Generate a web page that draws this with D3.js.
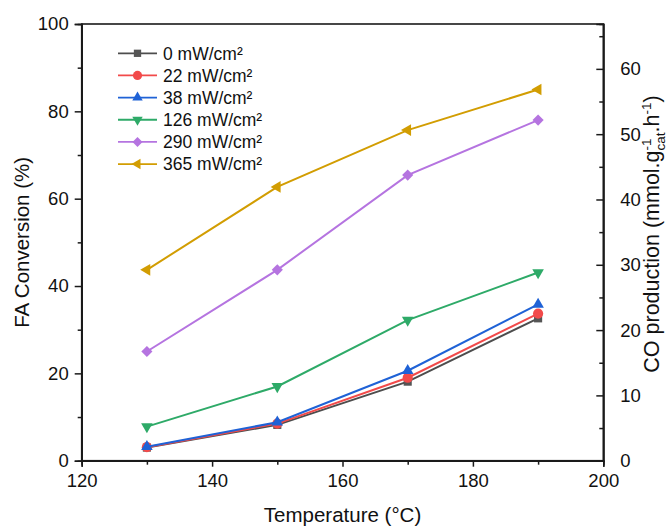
<!DOCTYPE html>
<html>
<head>
<meta charset="utf-8">
<script src="https://cdn.jsdelivr.net/npm/d3@7"></script>
<style>
  html, body { margin: 0; padding: 0; background: #fff; }
  svg { display: block; font-family: "Liberation Sans", Arial, sans-serif; }
</style>
</head>
<body>
<svg id="chart" width="669" height="526"></svg>
<script>
// Reaction temperature (°C)
const temperatures = [130, 150, 170, 190];

// Series labels (light intensity)
const seriesNames = ["0 mW/cm²", "22 mW/cm²", "38 mW/cm²", "126 mW/cm²", "290 mW/cm²", "365 mW/cm²"];

// FA conversion (%) for each light intensity
const conv0   = [3.0, 8.2, 18.1, 32.6];
const conv22  = [3.1, 8.5, 19.0, 33.7];
const conv38  = [3.2, 8.8, 20.6, 35.8];
const conv126 = [7.8, 17.0, 32.2, 43.1];
const conv290 = [25.0, 43.7, 65.4, 78.0];
const conv365 = [43.7, 62.7, 75.7, 85.0];

const seriesColors  = ["#4d4d4d", "#f24a4a", "#1f62d6", "#2eaa68", "#b574e0", "#d29d02"];
const markerColors  = ["#555555", "#f24a4a", "#1f62d6", "#2eaa68", "#b574e0", "#d29d02"];
const markerShapes  = ["square", "circle", "up", "down", "diamond", "left"];

// Axis ticks
const xTicks = [120, 140, 160, 180, 200];
const xMinor = [130, 150, 170, 190];
const yTicks = [0, 20, 40, 60, 80, 100];
const yMinor = [10, 30, 50, 70, 90];
const y2Ticks = [0, 10, 20, 30, 40, 50, 60];
const y2Minor = [5, 15, 25, 35, 45, 55, 65];
const y2Max = 66.87;   // CO production scale aligned with 100 % conversion

const allSeries = [conv0, conv22, conv38, conv126, conv290, conv365];

const svg = d3.select("#chart");
const plotL = 81.7, plotR = 603.3, plotT = 24, plotB = 460.7;

const x = d3.scaleLinear().domain([120, 200]).range([plotL, plotR]);
const y = d3.scaleLinear().domain([0, 100]).range([plotB, plotT]);
const y2 = d3.scaleLinear().domain([0, y2Max]).range([plotB, plotT]);

const axisColor = "#1a1a1a";
const tickFont = 18.5;

// Frame
svg.append("rect")
  .attr("x", plotL).attr("y", plotT)
  .attr("width", plotR - plotL).attr("height", plotB - plotT)
  .attr("fill", "none").attr("stroke", axisColor).attr("stroke-width", 1.6);

// Bottom axis
svg.append("g").attr("transform", `translate(0,${plotB})`)
  .call(d3.axisBottom(x).tickValues(xTicks).tickSize(6).tickPadding(7).tickFormat(d3.format("d")));
svg.append("g").attr("transform", `translate(0,${plotB})`)
  .call(d3.axisBottom(x).tickValues(xMinor).tickSize(4).tickFormat(""));

// Left axis
svg.append("g").attr("transform", `translate(${plotL},0)`)
  .call(d3.axisLeft(y).tickValues(yTicks).tickSize(7).tickPadding(6).tickFormat(d3.format("d")));
svg.append("g").attr("transform", `translate(${plotL},0)`)
  .call(d3.axisLeft(y).tickValues(yMinor).tickSize(4).tickFormat(""));

// Right axis (ticks point inward)
svg.append("g").attr("transform", `translate(${plotR},0)`)
  .call(d3.axisRight(y2).tickValues(y2Ticks).tickSize(-7).tickPadding(17).tickFormat(d3.format("d")));
svg.append("g").attr("transform", `translate(${plotR},0)`)
  .call(d3.axisRight(y2).tickValues(y2Minor).tickSize(-4).tickFormat(""));

svg.selectAll(".domain").attr("stroke", axisColor).attr("stroke-width", 1.6);
svg.selectAll(".tick line").attr("stroke", axisColor).attr("stroke-width", 1.5);
svg.selectAll(".tick text").attr("fill", "#111").style("font-size", tickFont + "px")
  .style("font-family", "'Liberation Sans', Arial, sans-serif");

// Marker path generator
function markerPath(shape, scale) {
  const s = scale || 1;
  switch (shape) {
    case "square":  return d3.symbol(d3.symbolSquare, 66 * s * s)();
    case "circle":  return d3.symbol(d3.symbolCircle, 82 * s * s)();
    case "up":      return d3.symbol(d3.symbolTriangle, 58 * s * s)();
    case "down":    return d3.symbol(d3.symbolTriangle, 58 * s * s)();
    case "left":    return d3.symbol(d3.symbolTriangle, 58 * s * s)();
    case "diamond": return d3.symbol(d3.symbolSquare, 62 * s * s)();
  }
}
function markerRotation(shape) {
  return { down: 180, left: -90, diamond: 45 }[shape] || 0;
}

// Lines and markers
const line = d3.line().x((d, i) => x(temperatures[i])).y(d => y(d));
allSeries.forEach((vals, k) => {
  const g = svg.append("g");
  g.append("path").datum(vals)
    .attr("d", line).attr("fill", "none")
    .attr("stroke", seriesColors[k]).attr("stroke-width", 2);
  g.selectAll("path.mk").data(vals).enter().append("path")
    .attr("class", "mk")
    .attr("d", markerPath(markerShapes[k]))
    .attr("transform", (d, i) => `translate(${x(temperatures[i])},${y(d)}) rotate(${markerRotation(markerShapes[k])})`)
    .attr("fill", markerColors[k]);
});

// Legend
const legend = svg.append("g");
const legX0 = 118, legX1 = 157, legY0 = 53.3, legStep = 22.15;
seriesNames.forEach((name, k) => {
  const ly = legY0 + k * legStep;
  legend.append("line")
    .attr("x1", legX0).attr("x2", legX1).attr("y1", ly).attr("y2", ly)
    .attr("stroke", seriesColors[k]).attr("stroke-width", 1.8);
  legend.append("path")
    .attr("d", markerPath(markerShapes[k], 0.9))
    .attr("transform", `translate(${(legX0 + legX1) / 2},${ly}) rotate(${markerRotation(markerShapes[k])})`)
    .attr("fill", markerColors[k]);
  legend.append("text")
    .attr("x", 163).attr("y", ly).attr("dy", "0.36em")
    .style("font-size", "17.5px").attr("fill", "#111")
    .text(name);
});

// Axis titles
svg.append("text")
  .attr("x", (plotL + plotR) / 2).attr("y", 522)
  .attr("text-anchor", "middle").style("font-size", "20.5px").attr("fill", "#111")
  .text("Temperature (°C)");

svg.append("text")
  .attr("transform", `translate(29,${(plotT + plotB) / 2}) rotate(-90)`)
  .attr("text-anchor", "middle").style("font-size", "20.5px").attr("fill", "#111")
  .text("FA Conversion (%)");

const t2 = svg.append("text")
  .attr("transform", `translate(659,234) rotate(-90)`)
  .attr("text-anchor", "middle").style("font-size", "21.5px").attr("fill", "#111");
t2.append("tspan").text("CO production (mmol.g");
t2.append("tspan").attr("dy", -8).style("font-size", "13.5px").text("-1");
t2.append("tspan").attr("dx", -12).attr("dy", 14).style("font-size", "13.5px").text("cat");
t2.append("tspan").attr("dy", -6).text(".h");
t2.append("tspan").attr("dy", -8).style("font-size", "13.5px").text("-1");
t2.append("tspan").attr("dy", 8).text(")");
</script>
</body>
</html>
